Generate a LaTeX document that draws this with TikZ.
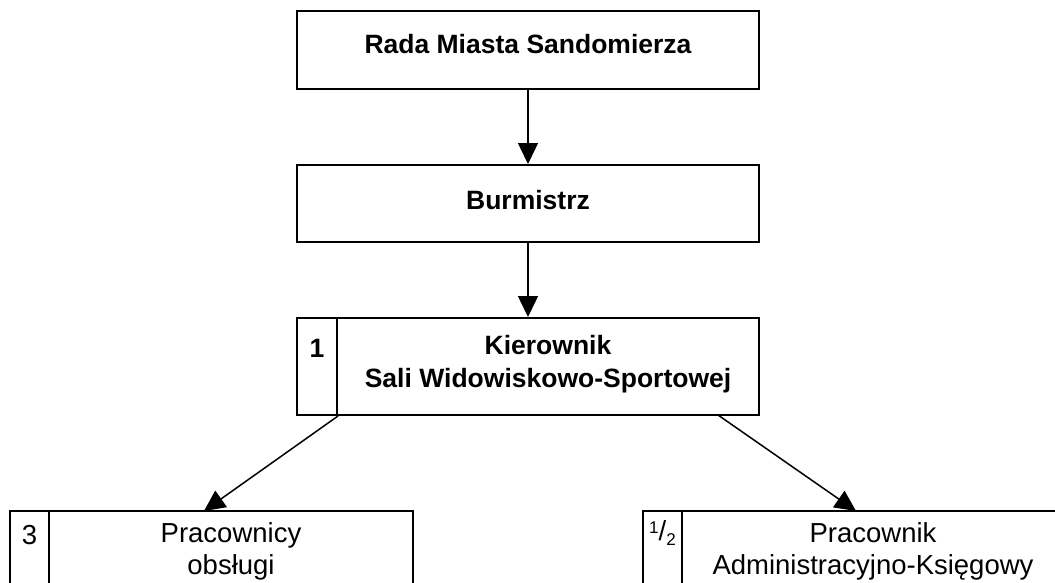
\documentclass[tikz,border=0pt]{standalone}
\usepackage{fontspec}
\setmainfont{Liberation Sans}
\usetikzlibrary{arrows.meta}
\begin{document}
\begin{tikzpicture}[x=1pt,y=-1pt,
  box/.style={draw,line width=2pt,rectangle,inner sep=0pt},
  boldtxt/.style={font=\fontsize{26.5}{33}\selectfont\bfseries,align=center,inner sep=0pt},
  regtxt/.style={font=\fontsize{27.5}{32}\selectfont,align=center,inner sep=0pt},
  conn/.style={line width=1.5pt,-{Triangle[length=21pt,width=20pt]}}]
\clip (0,0) rectangle (1055,582);
\fill[white] (0,0) rectangle (1055,582);
% top box
\node[box,minimum width=462pt,minimum height=78pt] (rada) at (528,50) {};
\node[boldtxt] (radat) at (528,44) {Rada Miasta Sandomierza};
% burmistrz
\node[box,minimum width=462pt,minimum height=77pt] (burm) at (528,203.5) {};
\node[boldtxt] (burmt) at (528,200) {Burmistrz};
% kierownik
\node[box,minimum width=40pt,minimum height=97pt] (kiern) at (317,366.5) {};
\node[box,minimum width=422pt,minimum height=97pt] (kier) at (548,366.5) {};
\node[boldtxt] (kiernt) at (317,348) {1};
\node[boldtxt] (kiert) at (548,364) {Kierownik\\Sali Widowiskowo-Sportowej};
% bottom left
\node[box,minimum width=39pt,minimum height=100pt] (pon) at (29.5,561) {};
\node[box,minimum width=364pt,minimum height=100pt] (po) at (231,561) {};
\node[regtxt] (pont) at (29.5,535) {3};
\node[regtxt] (pot) at (231,551) {Pracownicy\\obsługi};
% bottom right
\node[box,minimum width=39pt,minimum height=100pt] (pan) at (662.5,561) {};
\node[box,minimum width=382pt,minimum height=100pt] (pa) at (873,561) {};
\node[regtxt] (pant) at (662.5,533) {{\fontsize{17}{17}\selectfont\raisebox{7pt}{1}}/{\fontsize{17}{17}\selectfont\raisebox{-5pt}{2}}};
\node[regtxt] (pat) at (873,551) {Pracownik\\Administracyjno-Księgowy};
% connectors
\coordinate (kl) at (kiern.south east);
\coordinate (kr) at (718,415);
\coordinate (pol) at (204,511);
\coordinate (par) at (856,511);
\draw[conn] (rada.south) -- (burm.north);
\draw[conn] (burm.south) -- (kier.north -| burm.south);
\draw[conn] (kl) -- (pol);
\draw[conn] (kr) -- (par);
\end{tikzpicture}
\end{document}
